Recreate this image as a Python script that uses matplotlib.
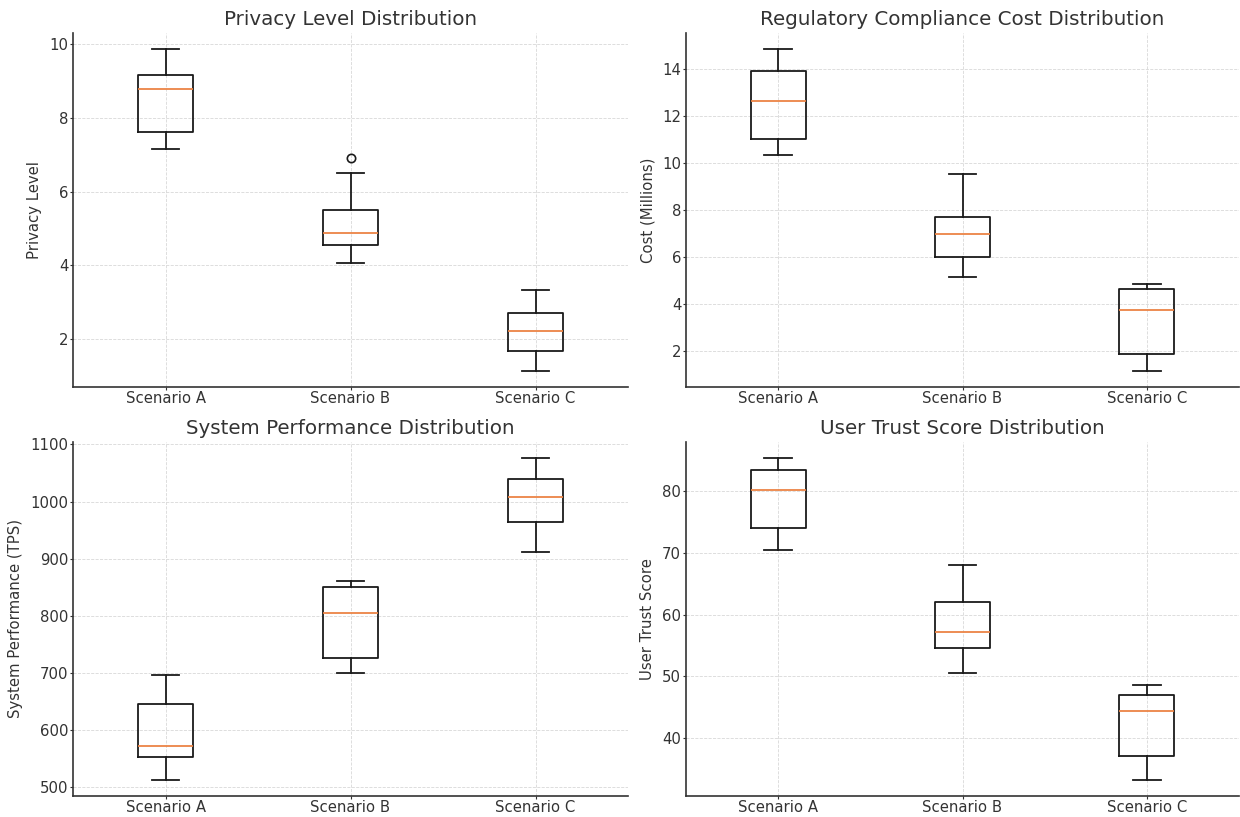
import matplotlib
matplotlib.use("Agg")
import matplotlib.pyplot as plt

scenarios = ["Scenario A", "Scenario B", "Scenario C"]

# Privacy level: whislo, q1, median, q3, whishi
privacy_whislo = [7.16, 4.06, 1.15]
privacy_q1 = [7.62, 4.56, 1.68]
privacy_med = [8.78, 4.88, 2.24]
privacy_q3 = [9.16, 5.50, 2.71]
privacy_whishi = [9.85, 6.49, 3.35]
privacy_fliers = [[], [6.91], []]

cost_whislo = [10.32, 5.17, 1.17]
cost_q1 = [11.02, 6.01, 1.90]
cost_med = [12.62, 7.00, 3.74]
cost_q3 = [13.89, 7.69, 4.64]
cost_whishi = [14.83, 9.54, 4.86]
cost_fliers = [[], [], []]

perf_whislo = [513, 700, 912]
perf_q1 = [553, 726, 965]
perf_med = [573, 805, 1008]
perf_q3 = [646, 851, 1040]
perf_whishi = [696, 861, 1076]
perf_fliers = [[], [], []]

trust_whislo = [70.4, 50.6, 33.2]
trust_q1 = [73.95, 54.65, 37.08]
trust_med = [80.1, 57.2, 44.38]
trust_q3 = [83.46, 62.05, 47.03]
trust_whishi = [85.35, 68.1, 48.6]
trust_fliers = [[], [], []]

titles = ["Privacy Level Distribution", "Regulatory Compliance Cost Distribution",
          "System Performance Distribution", "User Trust Score Distribution"]
ylabels = ["Privacy Level", "Cost (Millions)", "System Performance (TPS)", "User Trust Score"]

panels = [
    (privacy_whislo, privacy_q1, privacy_med, privacy_q3, privacy_whishi, privacy_fliers),
    (cost_whislo, cost_q1, cost_med, cost_q3, cost_whishi, cost_fliers),
    (perf_whislo, perf_q1, perf_med, perf_q3, perf_whishi, perf_fliers),
    (trust_whislo, trust_q1, trust_med, trust_q3, trust_whishi, trust_fliers),
]

fig = plt.figure(figsize=(12.4, 8.17), dpi=100)
W, H = 1240, 817
rects = [
    (73, 33, 628, 387),
    (686, 33, 1239, 387),
    (73, 442, 628, 796),
    (686, 442, 1239, 796),
]

line = "#1a1a1a"
for (x0, y0, x1, y1), title, ylab, p in zip(rects, titles, ylabels, panels):
    ax = fig.add_axes([x0 / W, 1 - y1 / H, (x1 - x0) / W, (y1 - y0) / H])
    stats = []
    for i, lab in enumerate(scenarios):
        stats.append(dict(label=lab, whislo=p[0][i], q1=p[1][i], med=p[2][i],
                          q3=p[3][i], whishi=p[4][i], fliers=p[5][i]))
    ax.bxp(stats, showfliers=True,
           boxprops=dict(color=line, linewidth=1.3),
           whiskerprops=dict(color=line, linewidth=1.3),
           capprops=dict(color=line, linewidth=1.3),
           medianprops=dict(color="#ec8445", linewidth=1.3),
           flierprops=dict(marker="o", markerfacecolor="none",
                           markeredgecolor=line, markersize=6, markeredgewidth=1.2))
    ax.set_title(title, fontsize=14.3, color="#333333", pad=6)
    ax.set_ylabel(ylab, fontsize=10.7, color="#333333", labelpad=5)
    ax.grid(True, linestyle="--", linewidth=0.6, color="#d8d8d8")
    ax.set_axisbelow(True)
    for s in ["top", "right"]:
        ax.spines[s].set_visible(False)
    for s in ["left", "bottom"]:
        ax.spines[s].set_color("#333333")
        ax.spines[s].set_linewidth(1.2)
    ax.tick_params(axis="x", labelsize=10.7, colors="#333333", length=2, pad=0.8)
    ax.tick_params(axis="y", labelsize=10.7, colors="#333333", length=2, pad=1.5)

fig.savefig("out.png", dpi=100, facecolor="white")
